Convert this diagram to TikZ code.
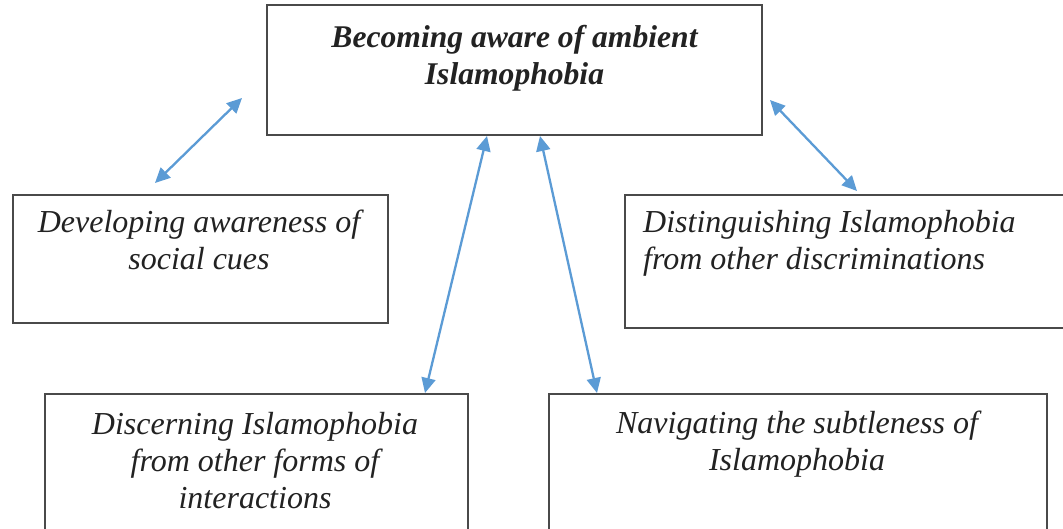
\documentclass[tikz,border=0pt]{standalone}
\usepackage{fontspec}
\setmainfont{Liberation Serif}
\usetikzlibrary{arrows.meta}
\definecolor{linkblue}{HTML}{5B9BD5}
\definecolor{frame}{HTML}{4A4A4A}
\definecolor{ink}{HTML}{222222}
\tikzset{
  box/.style={draw=frame, line width=2pt, inner sep=0pt, fill=white},
  lbl/.style={text=ink, inner sep=0pt, align=center,
    font=\fontsize{32}{37}\selectfont\itshape},
  link/.style={draw=linkblue, line width=2.3pt,
    {Triangle[length=15pt,width=14pt]}-{Triangle[length=15pt,width=14pt]}},
}
\begin{document}
\begin{tikzpicture}[x=1pt,y=-1pt]
\useasboundingbox (0,0) rectangle (1063,529);
\clip (0,0) rectangle (1063,529);
\fill[white] (0,0) rectangle (1063,529);

% boxes
\node[box, minimum width=495pt, minimum height=130pt] (top) at (514.5,70) {};
\node[box, minimum width=375pt, minimum height=128pt] (cues) at (200.5,259) {};
\node[box, minimum width=450pt, minimum height=133pt] (distinguish) at (850,261.5) {};
\node[box, minimum width=423pt, minimum height=136pt] (discern) at (256.5,462) {};
\node[box, minimum width=498pt, minimum height=136pt] (navigate) at (798,462) {};

% texts (anchor=base sits on the last line's baseline)
\node[lbl, anchor=base, font=\fontsize{31.6}{37}\selectfont\bfseries\itshape] (ttop) at (514.5,85) {Becoming aware of ambient\\Islamophobia};
\node[lbl, anchor=base] (tcues) at (199,270) {Developing awareness of\\social cues};
\node[lbl, anchor=base west, align=left] (tdist) at (643,270) {Distinguishing Islamophobia\\from other discriminations};
\node[lbl, anchor=base] (tdisc) at (255,508) {Discerning Islamophobia\\from other forms of\\interactions};
\node[lbl, anchor=base] (tnav) at (797,470) {Navigating the subtleness of\\Islamophobia};

% connector ends
\coordinate (a1) at (242,98);
\coordinate (b1) at (155,183);
\coordinate (a2) at (487,136);
\coordinate (b2) at (425,393);
\coordinate (a3) at (540,136);
\coordinate (b3) at (597,393);
\coordinate (a4) at (770,100);
\coordinate (b4) at (857,191);

% connectors
\draw[link] (a1) -- (b1);
\draw[link] (a2) -- (b2);
\draw[link] (a3) -- (b3);
\draw[link] (a4) -- (b4);
\end{tikzpicture}
\end{document}
